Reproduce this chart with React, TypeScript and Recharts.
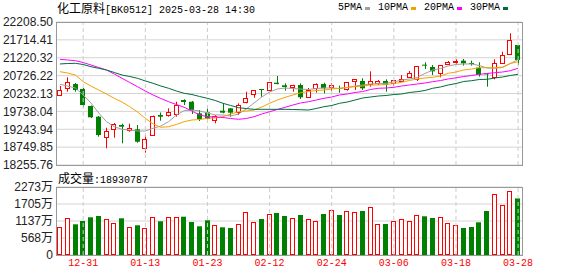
import {
  Bar,
  CartesianGrid,
  ComposedChart,
  Line,
  ReferenceLine,
  XAxis,
  YAxis,
} from "recharts";

const DATES = [
  "12-26", "12-27", "12-30", "12-31", "01-02", "01-03", "01-06", "01-07", "01-08", "01-09",
  "01-10", "01-13", "01-14", "01-15", "01-16", "01-17", "01-20", "01-21", "01-22", "01-23",
  "01-24", "01-27", "02-05", "02-06", "02-07", "02-10", "02-11", "02-12", "02-13", "02-14",
  "02-17", "02-18", "02-19", "02-20", "02-21", "02-24", "02-25", "02-26", "02-27", "02-28",
  "03-03", "03-04", "03-05", "03-06", "03-07", "03-10", "03-11", "03-12", "03-13", "03-14",
  "03-17", "03-18", "03-19", "03-20", "03-21", "03-24", "03-25", "03-26", "03-27", "03-28",
];
const DATE_TICKS = ["12-31", "01-13", "01-23", "02-12", "02-24", "03-06", "03-18", "03-28"];

const OPEN = [
  20199, 20376, 20494, 20357, 19886, 19591, 19038, 19242, 19361, 19223,
  19242, 18717, 19076, 19637, 19646, 19657, 20052, 20005, 19684, 19712,
  19499, 19757, 19822, 19730, 20005, 20218, 20357, 20320, 20531, 20459,
  20403, 20467, 20127, 20376, 20494, 20421, 20384, 20357, 20578, 20578,
  20486, 20513, 20578, 20513, 20578, 20697, 20624, 21029, 20964, 20808,
  21057, 21131, 21140, 21075, 20946, 20790, 20697, 21085, 21315, 21573,
];
const HIGH = [
  20440, 20680, 20522, 20384, 19900, 19610, 19286, 19416, 19397, 19397,
  19361, 19085, 19624, 19707, 19822, 20005, 20072, 20024, 19776, 19868,
  19637, 19960, 19830, 19960, 20282, 20330, 20357, 20550, 20716, 20513,
  20476, 20513, 20384, 20513, 20531, 20513, 20449, 20541, 20624, 20652,
  20845, 20605, 20624, 20605, 20743, 20854, 20992, 21094, 21020, 21020,
  21131, 21186, 21186, 21140, 21094, 20799, 21177, 21388, 21896, 21573,
];
const LOW = [
  20177, 20282, 20282, 19851, 19554, 19038, 18717, 19011, 18855, 19176,
  18871, 18595, 19076, 19480, 19591, 19591, 19914, 19665, 19472, 19499,
  19407, 19684, 19591, 19637, 19960, 20116, 20144, 20320, 20486, 20310,
  20282, 20080, 20127, 20255, 20237, 20310, 20255, 20310, 20329, 20329,
  20421, 20467, 20282, 20449, 20559, 20697, 20578, 20909, 20743, 20680,
  21020, 21048, 21002, 21002, 20697, 20421, 20624, 21085, 21315, 21020,
];
const CLOSE = [
  20329, 20541, 20329, 19914, 19574, 19085, 19195, 19397, 19314, 19269,
  18899, 18965, 19618, 19591, 19707, 19905, 19997, 19776, 19527, 19527,
  19618, 19702, 19702, 19914, 20116, 20320, 20338, 20550, 20494, 20412,
  20476, 20127, 20329, 20494, 20376, 20476, 20365, 20541, 20624, 20376,
  20578, 20578, 20467, 20596, 20633, 20790, 20992, 21011, 20845, 21020,
  21112, 21140, 21066, 21057, 20743, 20762, 21066, 21296, 21711, 21158,
];
const MA5 = [
  20486, 20439, 20384, 20191, 19970, 19693, 19453, 19314, 19243, 19223,
  19196, 19196, 19270, 19334, 19453, 19638, 19757, 19776, 19748, 19693,
  19638, 19638, 19610, 19665, 19804, 19970, 20135, 20274, 20356, 20384,
  20370, 20356, 20343, 20370, 20384, 20384, 20370, 20398, 20439, 20467,
  20495, 20508, 20514, 20550, 20605, 20633, 20674, 20785, 20882, 20923,
  20992, 21034, 21048, 21048, 21006, 20937, 20929, 20951, 21061, 21172,
];
const MA10 = [
  20835, 20799, 20743, 20558, 20439, 20329, 20218, 20099, 19997, 19867,
  19721, 19547, 19389, 19298, 19314, 19375, 19453, 19500, 19513, 19547,
  19555, 19591, 19665, 19729, 19748, 19776, 19859, 19961, 20052, 20127,
  20191, 20254, 20287, 20315, 20329, 20356, 20376, 20398, 20420, 20439,
  20467, 20467, 20481, 20508, 20542, 20591, 20633, 20661, 20680, 20716,
  20790, 20826, 20882, 20909, 20945, 20945, 20945, 20965, 21061, 21111,
];
const MA20 = [
  21177, 21158, 21139, 21089, 21020, 20951, 20882, 20771, 20652, 20536,
  20420, 20301, 20191, 20094, 20005, 19928, 19851, 19748, 19638, 19591,
  19583, 19569, 19541, 19519, 19541, 19591, 19665, 19729, 19790, 19851,
  19914, 19970, 20005, 20052, 20099, 20135, 20191, 20218, 20260, 20287,
  20343, 20376, 20384, 20403, 20439, 20467, 20495, 20522, 20558, 20591,
  20633, 20666, 20702, 20730, 20763, 20785, 20807, 20826, 20862, 20929,
];
const MA30 = [
  21048, 21061, 21067, 21034, 20973, 20929, 20882, 20813, 20743, 20702,
  20652, 20578, 20514, 20439, 20376, 20301, 20238, 20204, 20149, 20099,
  20039, 19961, 19900, 19840, 19817, 19795, 19795, 19795, 19795, 19795,
  19790, 19784, 19776, 19817, 19867, 19900, 19961, 19997, 20052, 20108,
  20135, 20163, 20177, 20204, 20218, 20260, 20282, 20315, 20376, 20412,
  20467, 20508, 20564, 20586, 20619, 20625, 20661, 20688, 20730, 20763,
];
// volume in 万
const VOLUME = [
  946, 1227, 1026, 1137, 1260, 1304, 1193, 1060, 1227, 946,
  993, 893, 1260, 1127, 1260, 1280, 1280, 1103, 959, 1160,
  993, 926, 903, 1026, 1427, 1093, 1203, 1361, 1404, 1304,
  1227, 1337, 1193, 1137, 1371, 1494, 1337, 1461, 1427, 1471,
  1595, 1026, 1036, 1127, 1193, 1127, 1327, 1294, 1237, 1260,
  1060, 993, 903, 936, 1093, 1471, 2029, 1661, 2129, 1893,
];

const PRICE_TICKS = [18255.76, 18749.85, 19243.94, 19738.04, 20232.13, 20726.22, 21220.32, 21714.41, 22208.5];
const VOL_TICKS = [0, 568.25, 1136.5, 1704.75, 2273];

const RED = "#ff0000";
const GREEN = "#008000";
const MA_COLORS = ["#a0a0a0", "#f5a200", "#ff00ff", "#006e3a"];
const MONO = "'Liberation Mono', 'Noto Sans CJK SC', monospace";
const CJK = "'Noto Sans CJK SC', sans-serif";
const AXIS_FONT = "'Liberation Sans', 'Noto Sans CJK SC', sans-serif";

const data = DATES.map((date, i) => ({
  date,
  open: OPEN[i],
  high: HIGH[i],
  low: LOW[i],
  close: CLOSE[i],
  ma5: MA5[i],
  ma10: MA10[i],
  ma20: MA20[i],
  ma30: MA30[i],
  vol: VOLUME[i],
}));

function Candle(props: any) {
  const { x, y, width, height, payload } = props;
  const { open, close, high, low } = payload;
  const up = close >= open;
  const span = high - low || 1;
  const py = (v: number) => y + ((high - v) / span) * height;
  const cx = Math.round(x + width / 2) + 0.5;
  const top = py(Math.max(open, close));
  const bot = py(Math.min(open, close));
  const left = Math.round(x);
  const w = Math.round(width);
  if (up) {
    const t = Math.round(top) + 0.5;
    const b = Math.max(Math.round(bot) + 0.5, t + 1);
    return (
      <g>
        <line x1={cx} x2={cx} y1={y} y2={t} stroke={RED} />
        <line x1={cx} x2={cx} y1={b} y2={y + height} stroke={RED} />
        <rect x={left + 0.5} y={t} width={w - 1} height={b - t} fill="#fff" stroke={RED} />
      </g>
    );
  }
  return (
    <g>
      <line x1={cx} x2={cx} y1={y} y2={y + height} stroke={GREEN} />
      <rect x={left} y={top} width={w} height={Math.max(bot - top, 1)} fill={GREEN} />
    </g>
  );
}

function VolBar(props: any) {
  const { x, y, width, height, payload } = props;
  const up = payload.close >= payload.open;
  const left = Math.round(x);
  const w = Math.round(width);
  if (up) {
    return (
      <rect x={left + 0.5} y={Math.round(y) + 0.5} width={w - 1} height={Math.round(height) - 1}
        fill="#fff" stroke={RED} />
    );
  }
  return <rect x={left} y={y} width={w} height={height} fill={GREEN} />;
}

const frame = (top: number, height: number): React.CSSProperties => ({
  position: "absolute",
  left: 56,
  top,
  width: 467,
  height,
  boxSizing: "border-box",
  border: "1px solid #999",
  pointerEvents: "none",
});

export default function App() {
  return (
    <div style={{ position: "absolute", left: 0, top: 0, width: 578, height: 276, background: "#fff" }}>
      <div style={{ position: "absolute", left: 57, top: 1, fontSize: 10, fontFamily: MONO, color: "#000", whiteSpace: "pre", lineHeight: "14px" }}>
        <span style={{ fontFamily: CJK, fontSize: 12 }}>化工原料</span>[BK0512] 2025-03-28 14:30
      </div>
      <div style={{ position: "absolute", left: 338, top: 1, fontSize: 10, fontFamily: MONO, color: "#000", whiteSpace: "pre", lineHeight: "14px", display: "flex", alignItems: "center" }}>
        {["5PMA", "10PMA", "20PMA", "30PMA"].map((t, i) => (
          <span key={t} style={{ display: "flex", alignItems: "center", marginRight: i === 3 ? 0 : 8 }}>
            {t}
            <span style={{ display: "inline-block", width: 5, height: 3, marginLeft: 3, background: MA_COLORS[i] }} />
          </span>
        ))}
      </div>

      <div style={{ position: "absolute", left: 0, top: 166 }}>
        <ComposedChart width={578} height={110} data={data} margin={{ top: 21, right: 56, bottom: 0, left: 0 }}>
          <CartesianGrid vertical={false} stroke="#d4d4d4" />
          <XAxis
            dataKey="date"
            ticks={DATE_TICKS}
            interval={0}
            height={21}
            axisLine={false}
            tickLine={false}
            tickSize={0}
            tickMargin={4}
            tick={{ fill: RED, fontSize: 10, fontFamily: MONO }}
          />
          <YAxis
            domain={[0, 2273]}
            ticks={VOL_TICKS}
            interval={0}
            width={56}
            axisLine={false}
            tickLine={false}
            tickSize={0}
            tickMargin={3}
            allowDataOverflow
            tickFormatter={(v) => (v === 0 ? "0" : `${Math.round(v)}万`)}
            tick={{ fill: "#222", fontSize: 12, fontFamily: AXIS_FONT }}
          />
          {DATE_TICKS.map((d) => (
            <ReferenceLine key={d} x={d} stroke="#cccccc" strokeDasharray="4 3" />
          ))}
          <Bar dataKey="vol" barSize={5} shape={<VolBar />} isAnimationActive={false} />
        </ComposedChart>
      </div>
      <div style={frame(187, 69)} />
      <div style={{ position: "absolute", left: 58, top: 171, fontSize: 10, fontFamily: MONO, color: "#000", whiteSpace: "pre", lineHeight: "14px" }}>
        <span style={{ fontFamily: CJK, fontSize: 12 }}>成交量</span>:18930787
      </div>

      <div style={{ position: "absolute", left: 0, top: 0 }}>
        <ComposedChart width={578} height={176} data={data} margin={{ top: 22, right: 56, bottom: 11, left: 0 }}>
          <CartesianGrid vertical={false} stroke="#d4d4d4" />
          <XAxis dataKey="date" hide />
          <YAxis
            domain={[PRICE_TICKS[0], PRICE_TICKS[8]]}
            ticks={PRICE_TICKS}
            interval={0}
            width={56}
            axisLine={false}
            tickLine={false}
            tickSize={0}
            tickMargin={3}
            allowDataOverflow
            tickFormatter={(v) => Number(v).toFixed(2)}
            tick={{ fill: "#222", fontSize: 12, fontFamily: AXIS_FONT }}
          />
          {DATE_TICKS.map((d) => (
            <ReferenceLine key={d} x={d} stroke="#cccccc" strokeDasharray="4 3" />
          ))}
          <Bar dataKey={(d: any) => [d.low, d.high]} barSize={5} shape={<Candle />} isAnimationActive={false} />
          <Line dataKey="ma5" stroke={MA_COLORS[0]} dot={false} strokeWidth={1} type="linear" isAnimationActive={false} />
          <Line dataKey="ma10" stroke={MA_COLORS[1]} dot={false} strokeWidth={1} type="linear" isAnimationActive={false} />
          <Line dataKey="ma20" stroke={MA_COLORS[2]} dot={false} strokeWidth={1} type="linear" isAnimationActive={false} />
          <Line dataKey="ma30" stroke={MA_COLORS[3]} dot={false} strokeWidth={1} type="linear" isAnimationActive={false} />
        </ComposedChart>
      </div>
      <div style={frame(22, 144)} />
    </div>
  );
}
